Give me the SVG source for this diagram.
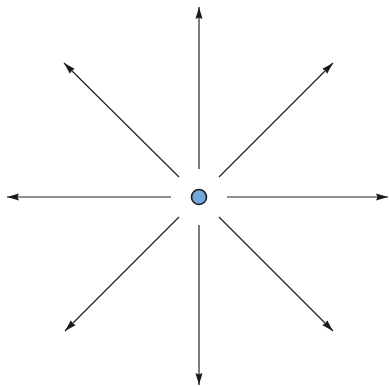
<svg xmlns="http://www.w3.org/2000/svg" width="389" height="387" viewBox="0 0 389 387">
<style>
.ray{stroke:#222;stroke-width:1.2;fill:none;marker-end:url(#ah)}
.src{fill:#74a8dc;stroke:#1a1a1a;stroke-width:1.6}
</style>
<defs>
<marker id="ah" markerUnits="userSpaceOnUse" markerWidth="13" markerHeight="9" refX="12" refY="4" orient="auto">
<path d="M0,0.5 L12,4 L0,7.5 L1.5,4 Z" fill="#1a1a1a"/>
</marker>
</defs>
<rect width="389" height="387" fill="#fff"/>
<g id="connectors">
<line class="ray" x1="199" y1="169" x2="199" y2="7"/>
<line class="ray" x1="199" y1="225" x2="199" y2="385"/>
<line class="ray" x1="227" y1="197" x2="388" y2="197"/>
<line class="ray" x1="171" y1="197" x2="7" y2="197"/>
<line class="ray" x1="219" y1="177" x2="333" y2="63"/>
<line class="ray" x1="179" y1="177" x2="64" y2="63"/>
<line class="ray" x1="219" y1="217" x2="333" y2="331"/>
<line class="ray" x1="179" y1="217" x2="65" y2="331"/>
</g>
<g id="source">
<circle class="src" cx="199" cy="197" r="7.5"/>
</g>
</svg>
